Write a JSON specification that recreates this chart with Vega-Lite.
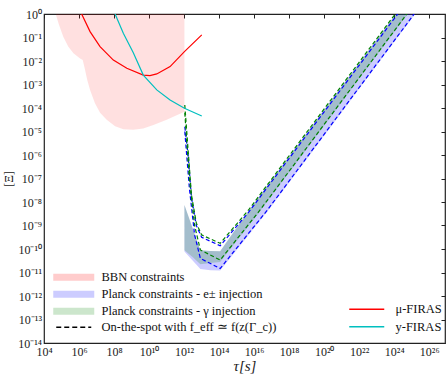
{
  "$schema": "https://vega.github.io/schema/vega-lite/v6.json",
  "autosize": {"type": "none"},
  "width": 401,
  "height": 329,
  "padding": {"left": 44, "top": 14, "right": 1, "bottom": 35},
  "background": "white",
  "config": {
    "view": {"stroke": "#222", "strokeWidth": 1.2},
    "axis": {"grid": false, "labelFont": "Liberation Serif", "titleFont": "Liberation Serif", "labelColor": "#222", "titleColor": "#222", "tickColor": "#222"},
    "legend": {"labelFont": "Liberation Serif", "labelFontSize": 12.5, "labelColor": "#111", "symbolOpacity": 1, "padding": 0, "labelLimit": 400}
  },
  "datasets": {
    "bbn": [
      {"tau": 46770, "lo": 1},
      {"tau": 70790, "lo": 0.3548},
      {"tau": 125900, "lo": 0.1072},
      {"tau": 245500, "lo": 0.04074},
      {"tau": 478600, "lo": 0.02138},
      {"tau": 1148000, "lo": 0.01288},
      {"tau": 1622000, "lo": 0.01096},
      {"tau": 2089000, "lo": 0.005012},
      {"tau": 2951000, "lo": 0.001549},
      {"tau": 4266000, "lo": 0.0005888},
      {"tau": 8128000, "lo": 0.0001585},
      {"tau": 15850000, "lo": 6.31e-5},
      {"tau": 38020000, "lo": 3.162e-5},
      {"tau": 114800000, "lo": 1.66e-5},
      {"tau": 338800000, "lo": 1.259e-5},
      {"tau": 1259000000, "lo": 1.175e-5},
      {"tau": 4677000000, "lo": 1.349e-5},
      {"tau": 17780000000, "lo": 1.905e-5},
      {"tau": 102300000000, "lo": 3.162e-5},
      {"tau": 1047000000000, "lo": 6.918e-5}
    ],
    "band": [
      {"tau": 1.047e12, "top": 7.413e-9, "elo": 7.762e-11, "glo": 8.913e-11},
      {"tau": 3.162e12, "top": 7.244e-10, "elo": 3.162e-11, "glo": 4.467e-11},
      {"tau": 8.511e12, "top": 8.913e-11, "elo": 1.413e-11, "glo": 2.239e-11},
      {"tau": 3.162e13, "top": 8.318e-11, "elo": 1.259e-11, "glo": 2.512e-11},
      {"tau": 1.148e14, "top": 7.943e-11, "elo": 1.202e-11, "glo": 2.818e-11},
      {"tau": 1e15, "top": 7.943e-10, "elo": 9.12e-11, "glo": 2.188e-10},
      {"tau": 4.786e15, "top": 3.981e-9, "elo": 3.89e-10, "glo": 9.55e-10},
      {"tau": 2.188e16, "top": 1.95e-8, "elo": 1.622e-9, "glo": 4.074e-9},
      {"tau": 5.754e16, "top": 5.129e-8, "elo": 3.981e-9, "glo": 1.072e-8},
      {"tau": 1e18, "top": 8.71e-7, "elo": 6.761e-8, "glo": 1.82e-7},
      {"tau": 1e20, "top": 8.511e-5, "elo": 6.607e-6, "glo": 1.778e-5},
      {"tau": 1e22, "top": 0.008318, "elo": 0.0006607, "glo": 0.001738},
      {"tau": 1.148e24, "top": 0.9333, "elo": 0.07413, "glo": 0.195},
      {"tau": 1.995e25, "top": 15.85, "elo": 1.259, "glo": 3.311}
    ],
    "onspot": [
      {"tau": 1.096e12, "zeta": 1.349e-4, "inj": "gamma", "branch": "up"},
      {"tau": 1.698e12, "zeta": 1.585e-6, "inj": "gamma", "branch": "up"},
      {"tau": 2.63e12, "zeta": 1.995e-8, "inj": "gamma", "branch": "up"},
      {"tau": 5.012e12, "zeta": 1.259e-9, "inj": "gamma", "branch": "up"},
      {"tau": 1e13, "zeta": 3.981e-10, "inj": "gamma", "branch": "up"},
      {"tau": 1.148e14, "zeta": 1.738e-10, "inj": "gamma", "branch": "up"},
      {"tau": 4.786e15, "zeta": 4.571e-9, "inj": "gamma", "branch": "up"},
      {"tau": 1.148e24, "zeta": 1, "inj": "gamma", "branch": "up"},
      {"tau": 1.096e12, "zeta": 1.585e-5, "inj": "e", "branch": "up"},
      {"tau": 1.698e12, "zeta": 1e-6, "inj": "e", "branch": "up"},
      {"tau": 2.63e12, "zeta": 1.585e-8, "inj": "e", "branch": "up"},
      {"tau": 5.012e12, "zeta": 1e-9, "inj": "e", "branch": "up"},
      {"tau": 1e13, "zeta": 3.162e-10, "inj": "e", "branch": "up"},
      {"tau": 1.148e14, "zeta": 1.38e-10, "inj": "e", "branch": "up"},
      {"tau": 4.786e15, "zeta": 3.631e-9, "inj": "e", "branch": "up"},
      {"tau": 1.585e24, "zeta": 1, "inj": "e", "branch": "up"},
      {"tau": 1.096e12, "zeta": 6.31e-5, "inj": "gamma", "branch": "low"},
      {"tau": 1.995e12, "zeta": 1e-7, "inj": "gamma", "branch": "low"},
      {"tau": 3.981e12, "zeta": 1e-9, "inj": "gamma", "branch": "low"},
      {"tau": 8.511e12, "zeta": 9.12e-11, "inj": "gamma", "branch": "low"},
      {"tau": 1.148e14, "zeta": 3.388e-11, "inj": "gamma", "branch": "low"},
      {"tau": 2.188e16, "zeta": 4.571e-9, "inj": "gamma", "branch": "low"},
      {"tau": 5.248e24, "zeta": 1, "inj": "gamma", "branch": "low"},
      {"tau": 1.096e12, "zeta": 1e-5, "inj": "e", "branch": "low"},
      {"tau": 1.995e12, "zeta": 3.981e-8, "inj": "e", "branch": "low"},
      {"tau": 3.981e12, "zeta": 3.981e-10, "inj": "e", "branch": "low"},
      {"tau": 8.511e12, "zeta": 3.981e-11, "inj": "e", "branch": "low"},
      {"tau": 1.148e14, "zeta": 1.479e-11, "inj": "e", "branch": "low"},
      {"tau": 5.754e16, "zeta": 4.571e-9, "inj": "e", "branch": "low"},
      {"tau": 1.38e25, "zeta": 1, "inj": "e", "branch": "low"}
    ],
    "firas": [
      {"tau": 1.413e6, "zeta": 1, "name": "μ-FIRAS"},
      {"tau": 4.266e6, "zeta": 0.1778, "name": "μ-FIRAS"},
      {"tau": 1.585e7, "zeta": 0.04074, "name": "μ-FIRAS"},
      {"tau": 9.12e7, "zeta": 0.01096, "name": "μ-FIRAS"},
      {"tau": 5.37e8, "zeta": 0.004898, "name": "μ-FIRAS"},
      {"tau": 4.677e9, "zeta": 0.002512, "name": "μ-FIRAS"},
      {"tau": 1.122e10, "zeta": 0.002399, "name": "μ-FIRAS"},
      {"tau": 2.754e10, "zeta": 0.002818, "name": "μ-FIRAS"},
      {"tau": 1.585e11, "zeta": 0.005754, "name": "μ-FIRAS"},
      {"tau": 1.047e12, "zeta": 0.02512, "name": "μ-FIRAS"},
      {"tau": 1.023e13, "zeta": 0.1288, "name": "μ-FIRAS"},
      {"tau": 1.148e8, "zeta": 1, "name": "y-FIRAS"},
      {"tau": 3.388e8, "zeta": 0.1514, "name": "y-FIRAS"},
      {"tau": 1.259e9, "zeta": 0.02239, "name": "y-FIRAS"},
      {"tau": 4.677e9, "zeta": 0.002512, "name": "y-FIRAS"},
      {"tau": 2.754e10, "zeta": 0.0005888, "name": "y-FIRAS"},
      {"tau": 1.585e11, "zeta": 0.0002188, "name": "y-FIRAS"},
      {"tau": 1.047e12, "zeta": 9.772e-5, "name": "y-FIRAS"},
      {"tau": 1.023e13, "zeta": 4.571e-5, "name": "y-FIRAS"}
    ],
    "leg": [
      {"entry": "BBN constraints"},
      {"entry": "Planck constraints - e± injection"},
      {"entry": "Planck constraints - γ injection"},
      {"entry": "On-the-spot with f_eff ≃ f(z(Γ_c))"}
    ]
  },
  "resolve": {"axis": {"x": "independent", "y": "independent"}},
  "layer": [
    {
      "data": {"name": "bbn"},
      "mark": {"type": "area", "fill": "#ff0000", "fillOpacity": 0.12, "clip": true},
      "encoding": {
        "x": {"field": "tau", "type": "quantitative",
          "scale": {"type": "log", "domain": [1e4, 7.943e26], "nice": false},
          "axis": {"orient": "bottom", "values": [1e4, 1e6, 1e8, 1e10, 1e12, 1e14, 1e16, 1e18, 1e20, 1e22, 1e24, 1e26],
            "labelExpr": "'10' + replace(replace(replace(replace(replace(replace(replace(replace(replace(replace(replace('' + round(log(datum.value)/LN10), regexp('-','g'), '⁻'), regexp('0','g'), '⁰'), regexp('1','g'), '¹'), regexp('2','g'), '²'), regexp('3','g'), '³'), regexp('4','g'), '⁴'), regexp('5','g'), '⁵'), regexp('6','g'), '⁶'), regexp('7','g'), '⁷'), regexp('8','g'), '⁸'), regexp('9','g'), '⁹')",
            "ticks": false, "tickSize": 0, "domain": false, "labelFlush": false, "labelOverlap": false,
            "labelFontSize": 12, "labelPadding": 3.5,
            "title": "τ[s]", "titleFontSize": 15, "titleFontStyle": "italic", "titleFontWeight": "normal", "titlePadding": 1}},
        "y": {"field": "lo", "type": "quantitative",
          "scale": {"type": "log", "domain": [1e-14, 1], "nice": false},
          "axis": {"orient": "left", "values": [1, 0.1, 0.01, 0.001, 1e-4, 1e-5, 1e-6, 1e-7, 1e-8, 1e-9, 1e-10, 1e-11, 1e-12, 1e-13, 1e-14],
            "labelExpr": "'10' + replace(replace(replace(replace(replace(replace(replace(replace(replace(replace(replace('' + round(log(datum.value)/LN10), regexp('-','g'), '⁻'), regexp('0','g'), '⁰'), regexp('1','g'), '¹'), regexp('2','g'), '²'), regexp('3','g'), '³'), regexp('4','g'), '⁴'), regexp('5','g'), '⁵'), regexp('6','g'), '⁶'), regexp('7','g'), '⁷'), regexp('8','g'), '⁸'), regexp('9','g'), '⁹')",
            "ticks": false, "tickSize": 0, "domain": false, "labelFlush": false, "labelOverlap": false,
            "labelFontSize": 12, "labelPadding": 2.5,
            "title": "[Ξ]", "titleFontSize": 12, "titleFontWeight": "normal", "titlePadding": 2}},
        "y2": {"datum": 1}
      }
    },
    {
      "data": {"name": "band"},
      "mark": {"type": "area", "fill": "#0000ff", "fillOpacity": 0.2, "clip": true},
      "encoding": {
        "x": {"field": "tau", "type": "quantitative",
          "axis": {"orient": "top", "values": [1e4, 1e6, 1e8, 1e10, 1e12, 1e14, 1e16, 1e18, 1e20, 1e22, 1e24, 1e26],
            "labels": false, "ticks": true, "tickSize": -4, "tickWidth": 1, "domain": false, "title": null}},
        "y": {"field": "top", "type": "quantitative",
          "axis": {"orient": "right", "values": [1, 0.1, 0.01, 0.001, 1e-4, 1e-5, 1e-6, 1e-7, 1e-8, 1e-9, 1e-10, 1e-11, 1e-12, 1e-13, 1e-14],
            "labels": false, "ticks": true, "tickSize": -4, "tickWidth": 1, "domain": false, "title": null}},
        "y2": {"field": "elo"}
      }
    },
    {
      "data": {"name": "band"},
      "mark": {"type": "area", "fill": "#008000", "fillOpacity": 0.2, "clip": true},
      "encoding": {
        "x": {"field": "tau", "type": "quantitative", "axis": null},
        "y": {"field": "top", "type": "quantitative", "axis": null},
        "y2": {"field": "glo"}
      }
    },
    {
      "data": {"name": "onspot"},
      "transform": [{"filter": "datum.inj === 'e'"}],
      "mark": {"type": "line", "stroke": "#0000ff", "strokeWidth": 1.2, "strokeDash": [4, 2.5], "clip": true},
      "encoding": {
        "x": {"field": "tau", "type": "quantitative", "axis": null},
        "y": {"field": "zeta", "type": "quantitative", "axis": null},
        "detail": {"field": "branch", "type": "nominal"}
      }
    },
    {
      "data": {"name": "onspot"},
      "transform": [{"filter": "datum.inj === 'gamma'"}],
      "mark": {"type": "line", "stroke": "#008000", "strokeWidth": 1.2, "strokeDash": [4, 2.5], "clip": true},
      "encoding": {
        "x": {"field": "tau", "type": "quantitative", "axis": null},
        "y": {"field": "zeta", "type": "quantitative", "axis": null},
        "detail": {"field": "branch", "type": "nominal"}
      }
    },
    {
      "data": {"name": "firas"},
      "mark": {"type": "line", "strokeWidth": 1.2, "clip": true},
      "encoding": {
        "x": {"field": "tau", "type": "quantitative", "axis": null},
        "y": {"field": "zeta", "type": "quantitative", "axis": null},
        "color": {"field": "name", "type": "nominal",
          "scale": {"domain": ["μ-FIRAS", "y-FIRAS"], "range": ["#ff0000", "#00bfbf"]},
          "legend": {"title": null, "orient": "none", "legendX": 316.5, "legendY": 289, "symbolType": "M-3.5,0H3.5", "symbolSize": 100, "symbolStrokeWidth": 1.3, "labelOffset": 22.5, "rowPadding": 4.5}}
      }
    },
    {
      "data": {"name": "leg"},
      "mark": {"type": "point", "opacity": 0},
      "encoding": {
        "fill": {"field": "entry", "type": "nominal",
          "scale": {"domain": ["BBN constraints", "Planck constraints - e± injection", "Planck constraints - γ injection", "On-the-spot with f_eff ≃ f(z(Γ_c))"], "range": ["#ffcccc", "#ccccff", "#cce6cc", "transparent"]},
          "legend": {"title": null, "orient": "none", "legendX": 23.5, "legendY": 257, "symbolSize": 100, "symbolStrokeWidth": 1.5, "labelOffset": 21.5, "rowPadding": 3}},
        "stroke": {"field": "entry", "type": "nominal",
          "scale": {"domain": ["BBN constraints", "Planck constraints - e± injection", "Planck constraints - γ injection", "On-the-spot with f_eff ≃ f(z(Γ_c))"], "range": ["transparent", "transparent", "transparent", "#000000"]},
          "legend": {"title": null, "orient": "none", "legendX": 23.5, "legendY": 257, "symbolSize": 100, "symbolStrokeWidth": 1.5, "labelOffset": 21.5, "rowPadding": 3}},
        "shape": {"field": "entry", "type": "nominal",
          "scale": {"domain": ["BBN constraints", "Planck constraints - e± injection", "Planck constraints - γ injection", "On-the-spot with f_eff ≃ f(z(Γ_c))"], "range": ["M-4.1,-0.7H4.1V0.7H-4.1Z", "M-4.1,-0.7H4.1V0.7H-4.1Z", "M-4.1,-0.7H4.1V0.7H-4.1Z", "M-3.5,0H3.5"]},
          "legend": {"title": null, "orient": "none", "legendX": 23.5, "legendY": 257, "symbolSize": 100, "symbolStrokeWidth": 1.5, "labelOffset": 21.5, "rowPadding": 3}},
        "strokeDash": {"field": "entry", "type": "nominal",
          "scale": {"domain": ["BBN constraints", "Planck constraints - e± injection", "Planck constraints - γ injection", "On-the-spot with f_eff ≃ f(z(Γ_c))"], "range": [[1, 0], [1, 0], [1, 0], [5, 3]]},
          "legend": {"title": null, "orient": "none", "legendX": 23.5, "legendY": 257, "symbolSize": 100, "symbolStrokeWidth": 1.5, "labelOffset": 21.5, "rowPadding": 3}}
      }
    }
  ]
}
